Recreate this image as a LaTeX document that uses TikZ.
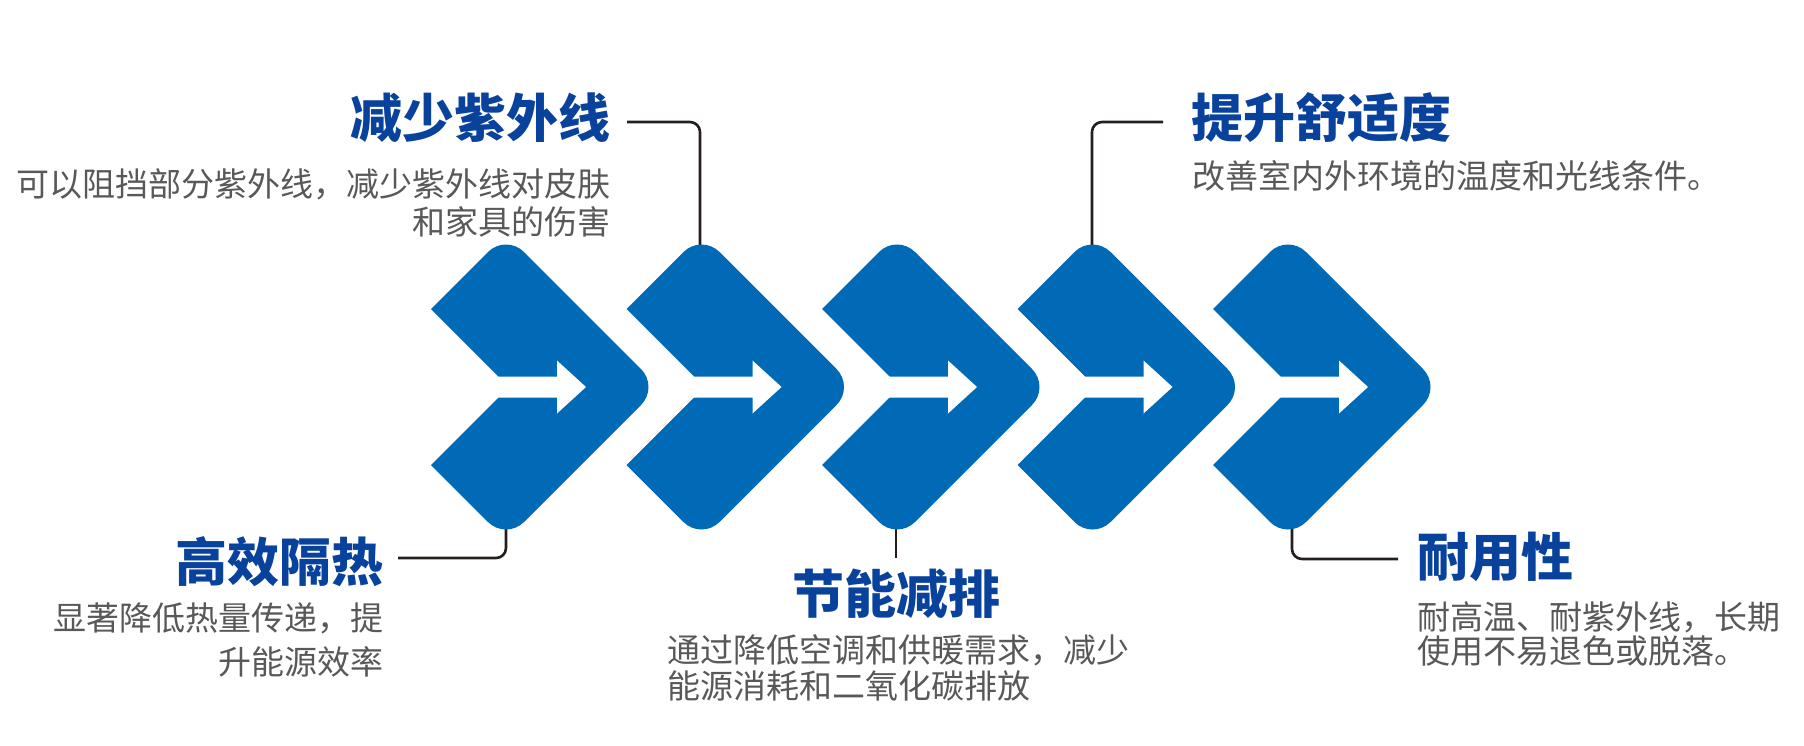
\documentclass[tikz,border=0pt]{standalone}
\usepackage{fontspec}
\newfontfamily\cjk{Noto Sans CJK SC}
\usepackage{tikz}
\pgfdeclarelayer{edgelayer}
\pgfdeclarelayer{nodelayer}
\pgfsetlayers{edgelayer,nodelayer,main}
\definecolor{chevblue}{RGB}{0,106,182}
\definecolor{headblue}{RGB}{8,66,156}
\definecolor{notegray}{RGB}{88,88,88}
\definecolor{linkc}{RGB}{38,30,26}
\tikzstyle{link}=[draw=linkc, line width=1.3pt, rounded corners=5pt]
\tikzstyle{head}=[inner sep=0pt, text=headblue, font=\cjk\bfseries\fontsize{26}{30}\selectfont]
\tikzstyle{note}=[inner sep=0pt, text=notegray]
\tikzstyle{chev}=[fill=chevblue]
\tikzstyle{pointer}=[fill=white]

\begin{document}
\begin{tikzpicture}[x=0.5pt, y=-0.5pt]
				\useasboundingbox (0,0) rectangle (1804,745);
				% chevrons with white arrows
				\foreach \k in {0,...,4} {
					\begin{scope}[shift={(509+195.5*\k,387)}]
						\fill[chev] (-78,-78) -- (-21,-135) .. controls (-11,-145) and (5,-145) .. (15,-135)
							-- (132,-18) .. controls (142,-8) and (142,8) .. (132,18)
							-- (15,135) .. controls (5,145) and (-11,145) .. (-21,135)
							-- (-78,78) -- (0,0) -- cycle;
						\fill[pointer] (-15,-10.5) -- (48,-10.5) -- (48,-26.5) -- (77,0) -- (48,26.5) -- (48,10.5) -- (-15,10.5) -- cycle;
					\end{scope}
				}
				\begin{pgfonlayer}{nodelayer}
					\node [style=head, anchor=east] (h1) at (384,562) {高效隔热};
					\node [style=head, anchor=east] (h2) at (611,118) {减少紫外线};
					\node [style=head] (h3) at (896,594) {节能减排};
					\node [style=head, anchor=west] (h4) at (1191,118) {提升舒适度};
					\node [style=head, anchor=west] (h5) at (1417,557) {耐用性};
					\node [style=note, anchor=north east, align=right, font=\cjk\fontsize{16.5}{22}\selectfont] (d1) at (384,602) {显著降低热量传递，提\\升能源效率};
					\node [style=note, anchor=north east, align=right, font=\cjk\fontsize{16.5}{19}\selectfont] (d2) at (611,168) {可以阻挡部分紫外线，减少紫外线对皮肤\\和家具的伤害};
					\node [style=note, anchor=north west, align=left, font=\cjk\fontsize{16.5}{18}\selectfont] (d3) at (667,634) {通过降低空调和供暖需求，减少\\能源消耗和二氧化碳排放};
					\node [style=note, anchor=north west, font=\cjk\fontsize{16.5}{19}\selectfont] (d4) at (1192,160) {改善室内外环境的温度和光线条件。};
					\node [style=note, anchor=north west, align=left, font=\cjk\fontsize{16.5}{17}\selectfont] (d5) at (1417,601) {耐高温、耐紫外线，长期\\使用不易退色或脱落。};
				\end{pgfonlayer}
				\begin{pgfonlayer}{edgelayer}
					\coordinate (a1) at (506,515);
					\coordinate (a2) at (700,260);
					\coordinate (a3) at (896,515);
					\coordinate (a4) at (1092,260);
					\coordinate (a5) at (1292,515);
					\coordinate (e1) at (398,558);
					\coordinate (e2) at (627,122);
					\coordinate (e3) at (896,558);
					\coordinate (e4) at (1163,122);
					\coordinate (e5) at (1398,559);
					\draw [style=link] (a1) |- (e1);
					\draw [style=link] (a2) |- (e2);
					\draw [style=link] (a3) -- (e3);
					\draw [style=link] (a4) |- (e4);
					\draw [style=link] (a5) |- (e5);
				\end{pgfonlayer}
			\end{tikzpicture}
\end{document}
